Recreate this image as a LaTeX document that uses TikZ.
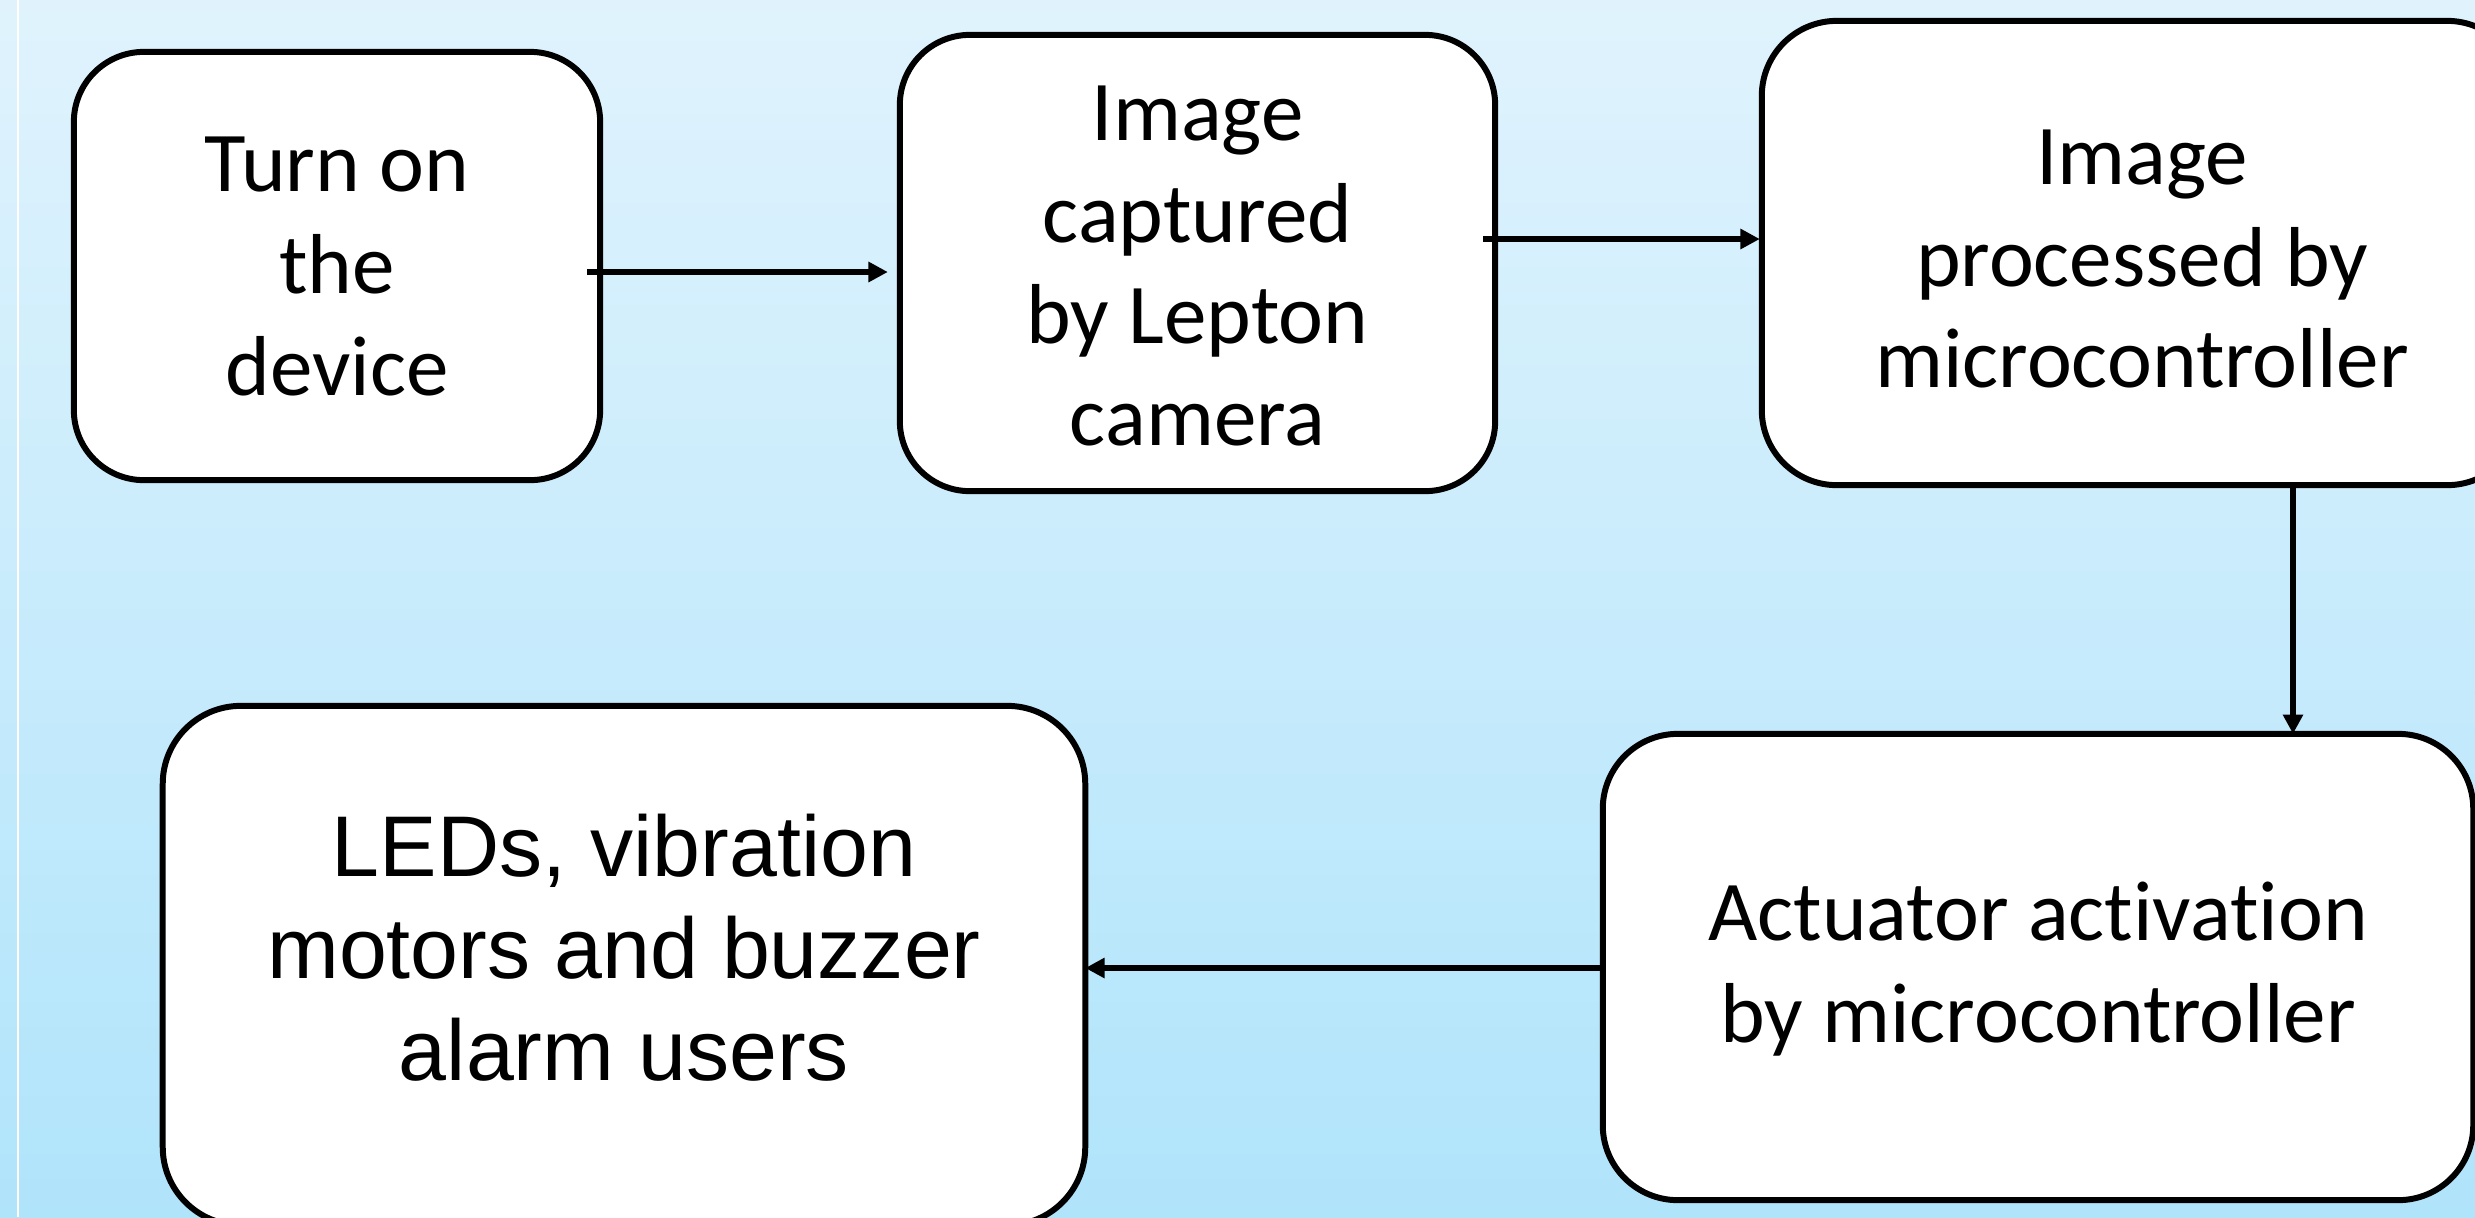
\documentclass[tikz,border=0pt]{standalone}
\usepackage{fontspec}
\newfontfamily\calfont[Ligatures=NoCommon]{Carlito}
\newfontfamily\arifont{Liberation Sans}
\usetikzlibrary{arrows.meta,calc}
\definecolor{bgtop}{RGB}{224,243,253}
\definecolor{bgbot}{RGB}{176,228,251}
\tikzset{
  box/.style={draw=black, fill=white, line width=1.7pt, rounded corners=0.7cm, inner sep=0pt, outer sep=0pt},
  txt/.style={align=center, inner sep=0pt, font=\calfont\fontsize{24.2}{29}\selectfont},
  atxt/.style={align=center, inner sep=0pt, font=\arifont\fontsize{24.5}{29}\selectfont},
  arr/.style={line width=1.6pt, -{Triangle[length=5.5pt,width=5.5pt]}}
}
\begin{document}
\begin{tikzpicture}[x=0.01cm,y=-0.01cm]
\useasboundingbox (0,0) rectangle (2475,1217);
\clip (0,0) rectangle (2475,1217);
\shade[top color=bgtop, bottom color=bgbot] (0,0) rectangle (2475,1217);
\draw[white, line width=0.7pt] (18,0) -- (18,1217);

\node[box, minimum width=5.26cm, minimum height=4.28cm] (b1) at (337,266) {};
\node[box, minimum width=5.95cm, minimum height=4.56cm] (b2) at (1197.5,263) {};
\node[box, minimum width=7.60cm, minimum height=4.64cm, rounded corners=0.75cm] (b3) at (2142,253) {};
\node[box, minimum width=8.70cm, minimum height=4.66cm, rounded corners=0.75cm] (b4) at (2038,967) {};
\node[box, minimum width=9.22cm, minimum height=5.19cm, rounded corners=0.78cm] (b5) at (624,965.5) {};

\node[txt] (t1) at (b1.center) {Turn on\\the\\device};
\node[txt] (t2) at ($(b2.center)+(0,3)$) {Image\\captured\\by Lepton\\camera};
\node[txt] (t3) at ($(b3.center)+(0,6)$) {Image\\processed by\\microcontroller};
\node[txt] (t4) at ($(b4.center)+(0,2)$) {Actuator activation\\by microcontroller};
\node[atxt] (t5) at ($(b5.center)+(0,-18)$) {LEDs, vibration\\motors and buzzer\\alarm users};

\draw[arr] ($(b1.east)+(-13,6)$) -- ($(b2.west)+(-12,9)$);
\draw[arr] ($(b2.east)+(-12,-24)$) -- ($(b3.west)+(-2,-14)$);
\draw[arr] ($(b3.south)+(151,0)$) -- ($(b4.north)+(255,0)$);
\draw[arr] ($(b4.west)+(0,1)$) -- ($(b5.east)+(0,2.5)$);
\end{tikzpicture}
\end{document}
